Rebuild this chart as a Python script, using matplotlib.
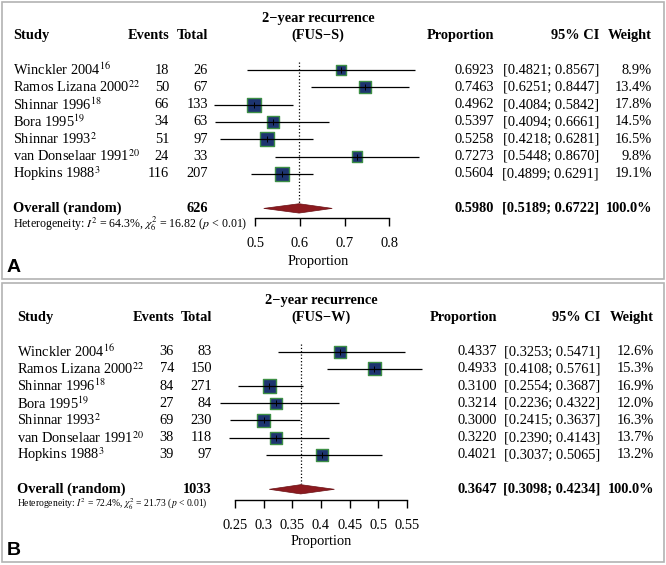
import numpy as np
import matplotlib
matplotlib.use("Agg")
import matplotlib.pyplot as plt
from matplotlib.transforms import blended_transform_factory
from matplotlib.patches import Rectangle, Polygon

plt.rcParams['font.family'] = ['Liberation Serif', 'DejaVu Serif']
plt.rcParams['mathtext.fontset'] = 'stix'

# data
studies = ["Winckler 2004", "Ramos Lizana 2000", "Shinnar 1996", "Bora 1995",
           "Shinnar 1993", "van Donselaar 1991", "Hopkins 1988"]
refs = ["16", "22", "18", "19", "2", "20", "3"]

# A: FUS-S
events_a = [18, 50, 66, 34, 51, 24, 116]
totals_a = [26, 67, 133, 63, 97, 33, 207]
prop_a = [0.6923, 0.7463, 0.4962, 0.5397, 0.5258, 0.7273, 0.5604]
lo_a = [0.4821, 0.6251, 0.4084, 0.4094, 0.4218, 0.5448, 0.4899]
hi_a = [0.8567, 0.8447, 0.5842, 0.6661, 0.6281, 0.8670, 0.6291]
weight_a = [8.9, 13.4, 17.8, 14.5, 16.5, 9.8, 19.1]
overall_a = [0.5980, 0.5189, 0.6722]
total_a = 626
het_a = r"Heterogeneity: $I^2$ = 64.3%, $\chi^2_6$ = 16.82 ($p$ < 0.01)"
ticks_a = [0.5, 0.6, 0.7, 0.8]

# B: FUS-W
events_b = [36, 74, 84, 27, 69, 38, 39]
totals_b = [83, 150, 271, 84, 230, 118, 97]
prop_b = [0.4337, 0.4933, 0.3100, 0.3214, 0.3000, 0.3220, 0.4021]
lo_b = [0.3253, 0.4108, 0.2554, 0.2236, 0.2415, 0.2390, 0.3037]
hi_b = [0.5471, 0.5761, 0.3687, 0.4322, 0.3637, 0.4143, 0.5065]
weight_b = [12.6, 15.3, 16.9, 12.0, 16.3, 13.7, 13.2]
overall_b = [0.3647, 0.3098, 0.4234]
total_b = 1033
het_b = r"Heterogeneity: $I^2$ = 72.4%, $\chi^2_6$ = 21.73 ($p$ < 0.01)"
ticks_b = [0.25, 0.3, 0.35, 0.4, 0.45, 0.5, 0.55]

W, H = 666, 565
fig = plt.figure(figsize=(W / 100, H / 100), dpi=100)

navy = '#1d3470'
green = '#3d8f45'
red = '#8c1a1f'
fs = 10.4


def forest(top, bottom, row0, step, x0px, pxper, cols, center, label, lab_y,
           events, totals, prop, lo, hi, weight, overall, total, het, ticks,
           subtitle, axis_row, het_row, het_fs):
    ax = fig.add_axes([0, (H - bottom) / H, 1, (bottom - top) / H])
    ax.set_facecolor('none')
    ref = ticks[0]
    ax.set_xlim(ref - x0px / pxper, ref + (W - x0px) / pxper)
    ax.set_ylim((bottom - row0) / step, (top - row0) / step)
    for s in ['top', 'left', 'right']:
        ax.spines[s].set_visible(False)
    ax.spines['bottom'].set_position(('data', axis_row))
    ax.spines['bottom'].set_bounds(ticks[0], ticks[-1])
    ax.spines['bottom'].set_linewidth(1.0)
    ax.set_yticks([])
    ax.set_xticks(ticks)
    ax.set_xticklabels([f"{t:g}" for t in ticks])
    ax.tick_params(axis='x', direction='out', length=6, width=1.0, pad=7.5,
                   labelsize=fs)

    rows = np.arange(len(studies))
    sizes = (3.3 * np.sqrt(weight) * 0.72) ** 2
    ax.vlines(overall[0], -0.45, 7.7, colors='k', linestyles=':', lw=0.9)
    ax.scatter(prop, rows, s=sizes, marker='s', c=navy, edgecolors=green,
               linewidths=1.0, zorder=3)
    ax.hlines(rows, lo, hi, colors='k', lw=0.9, zorder=4)
    ax.plot(prop, rows, '|', ms=4, color='k', mew=0.7, zorder=5)
    est, clo, chi = overall
    ax.add_patch(Polygon([(clo, 8), (est, 8 - 0.27), (chi, 8), (est, 8 + 0.27)],
                         closed=True, facecolor=red, edgecolor='#6a1014',
                         lw=0.5, zorder=3))

    tr = blended_transform_factory(fig.transFigure, ax.transData)
    name_x, ev_x, tot_x, p_x, ci_x, w_x = [c / W for c in cols]

    def t(x, y, s, **kw):
        kw.setdefault('fontsize', fs)
        kw.setdefault('va', 'center')
        ax.text(x, y, s, transform=tr, **kw)

    # header
    t(center / W, -3, "2\u2212year recurrence", ha='center', weight='bold')
    t(center / W, -2, subtitle, ha='center', weight='bold')
    t(name_x, -2, "Study", ha='left', weight='bold')
    t(ev_x, -2, "Events", ha='right', weight='bold')
    t(tot_x, -2, "Total", ha='right', weight='bold')
    t(p_x, -2, "Proportion", ha='right', weight='bold')
    t(ci_x, -2, "95% CI", ha='right', weight='bold')
    t(w_x, -2, "Weight", ha='right', weight='bold')

    for i in rows:
        t(name_x, i, studies[i] + r"$^{" + refs[i] + "}$", ha='left')
        t(ev_x, i, str(events[i]), ha='right')
        t(tot_x, i, str(totals[i]), ha='right')
        t(p_x, i, f"{prop[i]:.4f}", ha='right')
        t(ci_x, i, f"[{lo[i]:.4f}; {hi[i]:.4f}]", ha='right')
        t(w_x, i, f"{weight[i]:.1f}%", ha='right')

    t(name_x, 8, "Overall (random)", ha='left', weight='bold')
    t(tot_x, 8, str(total), ha='right', weight='bold')
    t(p_x, 8, f"{est:.4f}", ha='right', weight='bold')
    t(ci_x, 8, f"[{clo:.4f}; {chi:.4f}]", ha='right', weight='bold')
    t(w_x, 8, f"{sum(weight):.1f}%", ha='right', weight='bold')
    t(name_x, het_row, het, ha='left', fontsize=het_fs)
    t(center / W, 11.05, "Proportion", ha='center')

    fig.text(7 / W, (H - lab_y) / H, label, family='Liberation Sans',
             weight='bold', fontsize=14, va='baseline')
    fig.add_artist(Rectangle((2 / W, (H - bottom) / H), 662 / W, (bottom - top) / H,
                             transform=fig.transFigure, fill=False,
                             edgecolor='#b3b3b3', lw=1.2))


forest(2, 279, 70, 17.3, 255.3, 446.7, [13, 169, 208, 494, 599, 652], 318, 'A', 272,
       events_a, totals_a, prop_a, lo_a, hi_a, weight_a, overall_a, total_a,
       het_a, ticks_a, "(FUS\u2212S)", 8.55, 8.9, 8.6)
forest(283, 562, 351.7, 17.2, 235, 573.3, [17, 174, 212, 497, 600, 654], 321, 'B', 555,
       events_b, totals_b, prop_b, lo_b, hi_b, weight_b, overall_b, total_b,
       het_b, ticks_b, "(FUS\u2212W)", 8.62, 8.85, 6.9)

fig.savefig("out.png", dpi=100)
